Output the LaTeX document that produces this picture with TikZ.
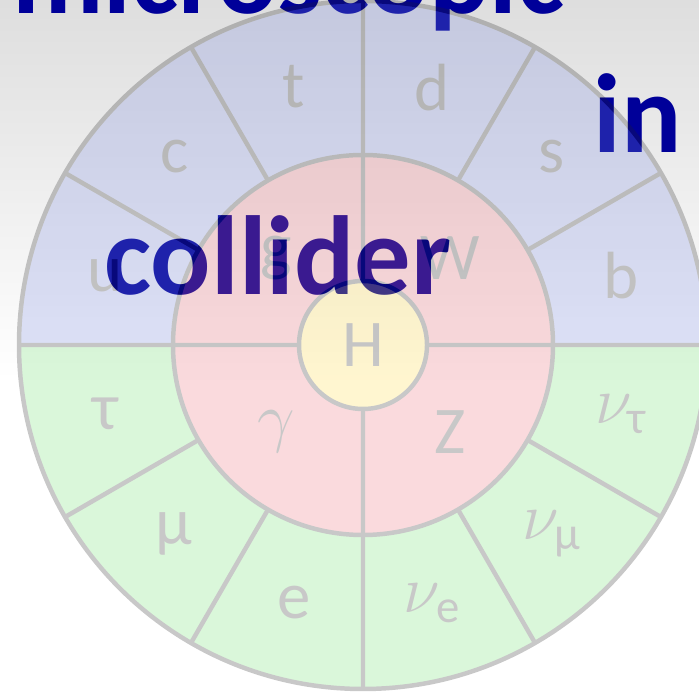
\documentclass[tikz,border=0pt]{standalone}
\usepackage{fix-cm}
\usepackage{amsmath}
\usepackage{fontspec}
\setmainfont{Carlito}
\usetikzlibrary{positioning}
\definecolor{titleblue}{RGB}{0,0,153}
\definecolor{quarkc}{RGB}{123,139,227}
\definecolor{leptonc}{RGB}{107,223,107}
\definecolor{bosonc}{RGB}{235,107,119}
\definecolor{higgsc}{RGB}{255,219,67}
\definecolor{rimc}{RGB}{35,35,35}

\begin{document}
\begin{tikzpicture}[
  x=0.02cm, y=0.02cm,
  title/.style={anchor=base west, inner sep=0pt, text=titleblue, font=\fontsize{64}{64}\selectfont\bfseries},
  lbl/.style={inner sep=0pt, text=rimc, font=\fontsize{38}{38}\selectfont},
  rim/.style={draw=rimc, line width=2.55pt}
]
\clip (0,0) rectangle (699,692);
\shade[top color=black!13, bottom color=white] (0,312) rectangle (699,692);

% slide title words, lying under the wheel
\node[title] (micro) at (12,678) {microscopic};
\node[title] (inword) at (593,539) {in};
\node[title] (coll) at (104,397) {collider};

\coordinate (ctr) at (363,347);
\begin{scope}[shift={(ctr)}, transparency group, opacity=0.25]
  \fill[quarkc] (344,0) arc[start angle=0, end angle=180, radius=344] -- cycle;
  \fill[leptonc] (-344,0) arc[start angle=180, end angle=360, radius=344] -- cycle;
  \fill[bosonc] (0,0) circle[radius=190];
  \foreach \a in {0,30,...,330}
    \draw[rim] (\a:190) -- (\a:344);
  \foreach \a in {0,90,180,270}
    \draw[rim] (\a:64) -- (\a:190);
  \draw[rim] (0,0) circle[radius=344];
  \draw[rim] (0,0) circle[radius=190];
  \draw[rim, fill=higgsc] (0,0) circle[radius=64];

  % fermions
  \foreach \a/\nm/\txt in {15/qb/b, 45/qs/s, 75/qd/d, 105/qt/t, 135/qc/c, 165/qu/u,
      195/ltau/τ, 225/lmu/μ, 255/le/e, 285/lnue/{$\nu_{\text{e}}$},
      315/lnumu/{$\nu_{\text{μ}}$}, 345/lnutau/{$\nu_{\text{τ}}$}}
    \node[lbl] (\nm) at (\a:267) {\txt};
  % bosons
  \foreach \a/\nm/\txt in {45/bw/W, 135/bg/g, 225/bgam/{$\gamma$}, 315/bz/Z}
    \node[lbl] (\nm) at (\a:123) {\txt};
  \node[lbl] (higgs) at (0,0) {H};
\end{scope}
\end{tikzpicture}
\end{document}
